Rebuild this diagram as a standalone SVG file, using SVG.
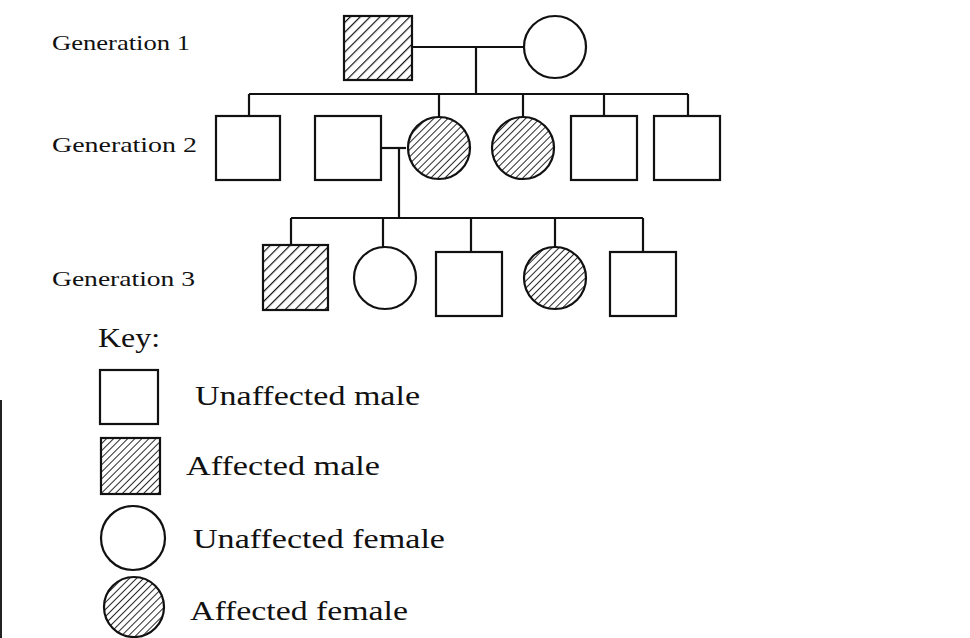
<svg xmlns="http://www.w3.org/2000/svg" width="970" height="638" viewBox="0 0 970 638">
<defs>
<pattern id="hatch" patternUnits="userSpaceOnUse" width="7" height="7" patternTransform="rotate(45)">
<rect width="7" height="7" fill="#fff"/>
<line x1="0" y1="0" x2="0" y2="7" stroke="#111" stroke-width="2.4"/>
</pattern>
<pattern id="hatchS" patternUnits="userSpaceOnUse" width="5" height="5" patternTransform="rotate(45)">
<rect width="5" height="5" fill="#fff"/>
<line x1="0" y1="0" x2="0" y2="5" stroke="#111" stroke-width="1.8"/>
</pattern>
</defs>
<style>
.u{fill:#fff;stroke:#111;stroke-width:2.2}
.a{fill:url(#hatch);stroke:#111;stroke-width:2.2}
.as{fill:url(#hatchS);stroke:#111;stroke-width:2.2}
.c line{stroke:#111;stroke-width:2.2}
.g{font-family:"Liberation Serif",serif;font-size:21px;fill:#111}
.k{font-family:"Liberation Serif",serif;font-size:27px;fill:#111}
</style>
<rect width="970" height="638" fill="#fff"/>
<line x1="1" y1="400" x2="1" y2="638" stroke="#222" stroke-width="2"/>
<text class="g" x="52" y="50" textLength="138" lengthAdjust="spacingAndGlyphs">Generation 1</text>
<text class="g" x="52" y="152" textLength="145" lengthAdjust="spacingAndGlyphs">Generation 2</text>
<text class="g" x="52" y="286" textLength="143" lengthAdjust="spacingAndGlyphs">Generation 3</text>
<g id="connectors" class="c">
<line x1="412" y1="47" x2="524" y2="47"/>
<line x1="476" y1="47" x2="476" y2="94"/>
<line x1="249" y1="94" x2="688" y2="94"/>
<line x1="249" y1="94" x2="249" y2="116"/>
<line x1="439" y1="94" x2="439" y2="117"/>
<line x1="523" y1="94" x2="523" y2="117"/>
<line x1="604" y1="94" x2="604" y2="116"/>
<line x1="688" y1="94" x2="688" y2="116"/>
<line x1="381" y1="148" x2="406" y2="148"/>
<line x1="399" y1="148" x2="399" y2="218"/>
<line x1="291" y1="218" x2="643" y2="218"/>
<line x1="291" y1="218" x2="291" y2="245"/>
<line x1="383" y1="218" x2="383" y2="247"/>
<line x1="471" y1="218" x2="471" y2="252"/>
<line x1="555" y1="218" x2="555" y2="247"/>
<line x1="643" y1="218" x2="643" y2="252"/>
</g>
<g id="g1-father"><rect class="a" x="344" y="16" width="68" height="64"/></g>
<g id="g1-mother"><circle class="u" cx="555" cy="47" r="31"/></g>
<g id="g2-m1"><rect class="u" x="216" y="116" width="64" height="64"/></g>
<g id="g2-m2"><rect class="u" x="315" y="116" width="66" height="64"/></g>
<g id="g2-f1"><circle class="as" cx="439" cy="148" r="31"/></g>
<g id="g2-f2"><circle class="as" cx="523" cy="148" r="31"/></g>
<g id="g2-m3"><rect class="u" x="571" y="116" width="66" height="64"/></g>
<g id="g2-m4"><rect class="u" x="654" y="116" width="66" height="64"/></g>
<g id="g3-m1"><rect class="a" x="263" y="245" width="65" height="65"/></g>
<g id="g3-f1"><circle class="u" cx="385" cy="278" r="31"/></g>
<g id="g3-m2"><rect class="u" x="436" y="252" width="66" height="64"/></g>
<g id="g3-f2"><circle class="as" cx="555" cy="278" r="31"/></g>
<g id="g3-m3"><rect class="u" x="610" y="252" width="66" height="64"/></g>
<g id="key">
<text class="k" x="98" y="347" textLength="62" lengthAdjust="spacingAndGlyphs">Key:</text>
<rect class="u" x="100" y="370" width="58" height="54"/>
<text class="k" x="195" y="405" textLength="225" lengthAdjust="spacingAndGlyphs">Unaffected male</text>
<rect class="as" x="101" y="438" width="59" height="56"/>
<text class="k" x="186" y="475" textLength="194" lengthAdjust="spacingAndGlyphs">Affected male</text>
<circle class="u" cx="133" cy="538" r="32"/>
<text class="k" x="193" y="548" textLength="252" lengthAdjust="spacingAndGlyphs">Unaffected female</text>
<circle class="as" cx="134" cy="607" r="30"/>
<text class="k" x="190" y="620" textLength="218" lengthAdjust="spacingAndGlyphs">Affected female</text>
</g>
</svg>
